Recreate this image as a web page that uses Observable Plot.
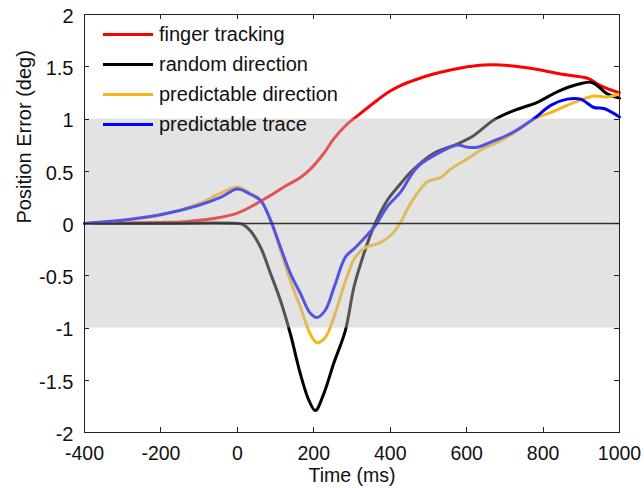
<!DOCTYPE html>
<html>
<head>
<meta charset="utf-8">
<script src="https://cdn.jsdelivr.net/npm/d3@7"></script>
<script src="https://cdn.jsdelivr.net/npm/@observablehq/plot@0.6"></script>
<style>
  html, body { margin: 0; padding: 0; background: #fff; }
  #wrap { position: relative; width: 644px; height: 488px; font-family: "Liberation Sans", Arial, sans-serif; }
  .leg { position: absolute; left: 103px; font-size: 20px; color: #111; white-space: nowrap; }
  .leg span.sw { position: absolute; left: 0; top: -1.5px; width: 50px; height: 3px; }
  .leg span.tx { position: absolute; left: 56px; top: -12px; line-height: 24px; }
</style>
</head>
<body>
<div id="wrap"></div>
<script>
// ---------- data ----------
const seriesNames = ["finger tracking", "random direction", "predictable direction", "predictable trace"];
const seriesColors = ["#ff0000", "#000000", "#f5b719", "#0000ff"];

const fingerT = [-400,-300,-200,-150,-100,-50,0,35,78,122,165,191,226,252,287,314,366,401,427,470,513,560,602,662,715,775,846,916,950,1000];
const fingerY = [0,0.005,0.01,0.015,0.03,0.055,0.1,0.16,0.25,0.35,0.44,0.52,0.67,0.81,0.95,1.03,1.18,1.27,1.32,1.38,1.43,1.47,1.50,1.52,1.51,1.48,1.43,1.39,1.32,1.25];

const randomT = [-400,-200,0,15,34,61,87,113,139,165,187,204,226,252,283,305,331,357,392,427,453,513,575,618,671,723,785,837,889,928,968,1000];
const randomY = [0,0,0,-0.01,-0.07,-0.23,-0.48,-0.74,-1.06,-1.44,-1.69,-1.79,-1.63,-1.34,-1.02,-0.61,-0.29,-0.03,0.22,0.38,0.49,0.67,0.76,0.84,0.99,1.08,1.16,1.26,1.33,1.35,1.24,1.20];

const predDirT = [-400,-300,-200,-100,-44,0,34,61,87,113,139,165,191,208,230,256,283,309,335,370,405,427,453,497,532,558,602,645,689,732,775,820,863,898,933,968,1000];
const predDirY = [0,0.03,0.08,0.19,0.29,0.35,0.29,0.22,0.03,-0.26,-0.55,-0.80,-1.06,-1.14,-1.09,-0.86,-0.55,-0.32,-0.23,-0.19,-0.10,0.01,0.19,0.40,0.44,0.52,0.62,0.72,0.79,0.89,1.00,1.06,1.13,1.18,1.22,1.21,1.24];

const predTraceT = [-400,-280,-193,-105,-44,0,34,61,87,113,139,165,191,208,230,256,283,309,335,361,392,427,471,540,575,602,628,671,715,775,820,863,898,933,959,1000];
const predTraceY = [0,0.04,0.09,0.17,0.25,0.33,0.28,0.22,0.03,-0.23,-0.48,-0.67,-0.86,-0.90,-0.83,-0.58,-0.32,-0.23,-0.13,-0.02,0.16,0.30,0.54,0.70,0.75,0.73,0.73,0.79,0.86,1.00,1.13,1.19,1.19,1.11,1.10,1.02];

const xTicks = [-400,-200,0,200,400,600,800,1000];
const yTicks = [-2,-1.5,-1,-0.5,0,0.5,1,1.5,2];
const bandLow = -1, bandHigh = 1;

// ---------- build ----------
const allT = [fingerT, randomT, predDirT, predTraceT];
const allY = [fingerY, randomY, predDirY, predTraceY];
const rows = [];
seriesNames.forEach((name, i) => {
  allT[i].forEach((t, j) => rows.push({series: name, t, v: allY[i][j]}));
});

function inwardTicks(index, scales, values, dims) {
  const {x, y} = scales;
  const L = dims.marginLeft, R = dims.width - dims.marginRight;
  const T = dims.marginTop, B = dims.height - dims.marginBottom;
  const g = d3.create("svg:g").attr("stroke", "#222").attr("stroke-width", 1).attr("fill", "none");
  const len = 5;
  for (const t of xTicks) {
    const px = Math.round(x(t)) + 0.5;
    g.append("line").attr("x1", px).attr("x2", px).attr("y1", B).attr("y2", B - len);
    g.append("line").attr("x1", px).attr("x2", px).attr("y1", T).attr("y2", T + len);
  }
  for (const v of yTicks) {
    const py = Math.round(y(v)) + 0.5;
    g.append("line").attr("x1", L).attr("x2", L + len).attr("y1", py).attr("y2", py);
    g.append("line").attr("x1", R).attr("x2", R - len).attr("y1", py).attr("y2", py);
  }
  return g.node();
}

const chart = Plot.plot({
  width: 644,
  height: 488,
  marginLeft: 84,
  marginRight: 25,
  marginTop: 14,
  marginBottom: 56,
  style: {fontFamily: "'Liberation Sans', Arial, sans-serif", fontSize: "20px", color: "#111", background: "#fff"},
  x: {domain: [-400, 1000]},
  y: {domain: [-2, 2]},
  color: {domain: seriesNames, range: seriesColors},
  marks: [
    Plot.line(rows, {x: "t", y: "v", z: "series", stroke: "series", strokeWidth: 3, curve: "catmull-rom"}),
    Plot.rect([{x1: -400, x2: 1000, y1: bandLow, y2: bandHigh}], {x1: "x1", x2: "x2", y1: "y1", y2: "y2", fill: "rgb(192,192,192)", fillOpacity: 0.44}),
    Plot.ruleY([0], {stroke: "#333", strokeWidth: 1.3}),
    Plot.frame({stroke: "#222", strokeWidth: 1}),
    inwardTicks,
    Plot.axisX({ticks: xTicks, tickSize: 0, tickPadding: 14, label: null, tickFormat: d => String(d), fontSize: 19.5}),
    Plot.axisY({ticks: yTicks, tickSize: 0, tickPadding: 11, dy: 2, label: null, tickFormat: d => String(d), fontSize: 20}),
    Plot.text(["Time (ms)"], {frameAnchor: "bottom", dy: 49.5, fontSize: 19.5, fill: "#111"}),
    Plot.text(["Position Error (deg)"], {frameAnchor: "left", dx: -60, rotate: -90, fontSize: 20, fill: "#111"})
  ]
});

const wrap = document.getElementById("wrap");
wrap.appendChild(chart);

const legendY = [34, 64, 94, 124];
seriesNames.forEach((name, i) => {
  const d = document.createElement("div");
  d.className = "leg";
  d.style.top = legendY[i] + "px";
  d.innerHTML = `<span class="sw" style="background:${seriesColors[i]}"></span><span class="tx">${name}</span>`;
  wrap.appendChild(d);
});
</script>
</body>
</html>
